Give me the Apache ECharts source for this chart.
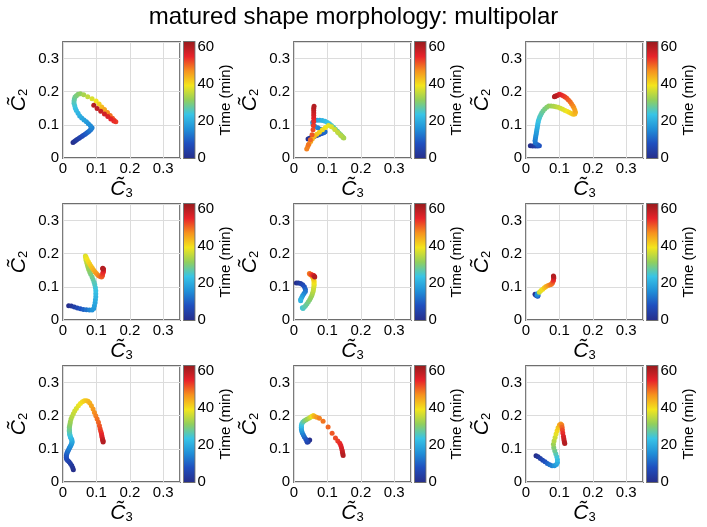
<!DOCTYPE html>
<html><head><meta charset="utf-8">
<script src="https://cdn.jsdelivr.net/npm/echarts@6/dist/echarts.min.js"></script>
<style>html,body{margin:0;padding:0;background:#fff}#c{width:707px;height:527px}</style>
</head><body><div id="c"></div><script>
// ---- data ----
const titleText = 'matured shape morphology: multipolar';
const c3Ticks = [0, 0.1, 0.2, 0.3];
const c2Ticks = [0, 0.1, 0.2, 0.3];
const timeTicks = [0, 20, 40, 60];
const c3Range = [0, 0.35];
const c2Range = [0, 0.35];
const timeRange = [0, 62.5];
// each point: [time (min), C3, C2]
const traj1 = [[0,0.030,0.047],[1,0.034,0.050],[2,0.038,0.053],[3,0.042,0.056],[4,0.047,0.059],[5,0.051,0.062],[6,0.056,0.065],[7,0.060,0.068],[8,0.065,0.071],[9,0.069,0.074],[10,0.073,0.077],[11,0.077,0.080],[12,0.081,0.084],[13,0.084,0.087],[14,0.087,0.091],[15,0.082,0.097],[16,0.076,0.103],[17,0.070,0.109],[18,0.063,0.115],[19,0.056,0.121],[20,0.050,0.127],[21,0.045,0.135],[22,0.040,0.143],[23,0.037,0.150],[24,0.035,0.158],[25,0.033,0.165],[26,0.033,0.172],[27,0.034,0.178],[28,0.036,0.184],[29,0.040,0.188],[30,0.045,0.192],[31,0.052,0.194],[33,0.062,0.191],[35,0.074,0.185],[37,0.087,0.179],[39,0.099,0.172],[41,0.108,0.163],[43,0.116,0.154],[45,0.124,0.146],[47,0.133,0.137],[49,0.141,0.128],[51,0.148,0.120],[52,0.153,0.114],[53,0.158,0.109],[54,0.152,0.112],[55,0.143,0.118],[56,0.134,0.125],[57,0.124,0.133],[58,0.113,0.141],[59,0.102,0.149],[60,0.092,0.159]];
const traj2 = [[0,0.042,0.057],[1,0.046,0.059],[2,0.050,0.061],[3,0.055,0.063],[4,0.060,0.065],[5,0.065,0.067],[6,0.070,0.069],[7,0.075,0.071],[8,0.080,0.073],[9,0.085,0.075],[10,0.090,0.077],[11,0.093,0.079],[12,0.088,0.083],[13,0.080,0.087],[14,0.071,0.091],[15,0.063,0.095],[16,0.057,0.101],[17,0.056,0.108],[18,0.061,0.113],[19,0.069,0.114],[20,0.077,0.114],[21,0.085,0.113],[22,0.093,0.111],[23,0.100,0.107],[24,0.106,0.103],[25,0.112,0.098],[26,0.118,0.093],[27,0.124,0.087],[28,0.130,0.081],[29,0.135,0.075],[30,0.140,0.070],[31,0.144,0.066],[32,0.147,0.062],[33,0.149,0.060],[34,0.140,0.068],[35,0.131,0.077],[36,0.122,0.086],[37,0.112,0.094],[38,0.103,0.098],[39,0.094,0.092],[40,0.085,0.085],[41,0.076,0.078],[42,0.068,0.072],[43,0.061,0.066],[44,0.055,0.058],[45,0.050,0.050],[46,0.045,0.042],[47,0.041,0.034],[48,0.038,0.027],[49,0.043,0.040],[50,0.049,0.055],[51,0.054,0.070],[52,0.057,0.085],[53,0.058,0.098],[54,0.059,0.110],[55,0.059,0.120],[56,0.059,0.128],[57,0.059,0.136],[58,0.059,0.143],[59,0.059,0.150],[60,0.060,0.156]];
const traj3 = [[0,0.013,0.037],[2,0.020,0.036],[4,0.028,0.036],[6,0.035,0.036],[8,0.040,0.037],[10,0.035,0.040],[12,0.028,0.045],[13,0.027,0.052],[14,0.028,0.058],[15,0.029,0.064],[16,0.030,0.070],[17,0.031,0.076],[18,0.032,0.082],[19,0.033,0.088],[20,0.034,0.094],[21,0.035,0.100],[22,0.036,0.106],[23,0.037,0.112],[24,0.039,0.118],[25,0.041,0.124],[26,0.044,0.130],[27,0.047,0.136],[28,0.051,0.142],[29,0.056,0.148],[30,0.062,0.153],[31,0.068,0.157],[32,0.075,0.157],[33,0.082,0.156],[34,0.089,0.155],[35,0.096,0.153],[36,0.103,0.150],[37,0.110,0.147],[38,0.117,0.143],[39,0.124,0.140],[40,0.130,0.137],[41,0.136,0.134],[42,0.141,0.132],[43,0.146,0.133],[44,0.148,0.138],[45,0.146,0.145],[46,0.143,0.152],[47,0.140,0.158],[48,0.136,0.164],[49,0.132,0.170],[50,0.127,0.175],[51,0.122,0.180],[52,0.117,0.184],[53,0.112,0.187],[54,0.106,0.190],[55,0.100,0.192],[56,0.096,0.190],[57,0.092,0.188],[58,0.089,0.187],[59,0.087,0.186],[60,0.085,0.185]];
const traj4 = [[0,0.017,0.043],[2,0.025,0.042],[4,0.034,0.039],[6,0.043,0.036],[8,0.052,0.034],[10,0.061,0.032],[12,0.070,0.031],[14,0.079,0.030],[16,0.087,0.030],[17,0.092,0.035],[18,0.094,0.043],[19,0.096,0.052],[20,0.097,0.061],[21,0.098,0.070],[22,0.098,0.079],[23,0.098,0.088],[24,0.097,0.097],[25,0.095,0.106],[26,0.093,0.114],[27,0.090,0.122],[28,0.087,0.130],[29,0.083,0.138],[30,0.080,0.145],[31,0.077,0.152],[32,0.075,0.159],[33,0.073,0.166],[34,0.071,0.173],[35,0.069,0.180],[36,0.068,0.187],[37,0.067,0.193],[38,0.069,0.190],[39,0.072,0.183],[40,0.076,0.176],[41,0.080,0.169],[42,0.084,0.162],[43,0.088,0.156],[44,0.092,0.150],[45,0.096,0.145],[46,0.100,0.140],[47,0.104,0.136],[48,0.108,0.133],[49,0.112,0.131],[50,0.115,0.130],[51,0.117,0.132],[52,0.118,0.136],[53,0.119,0.140],[54,0.120,0.144],[55,0.121,0.148],[56,0.121,0.151],[57,0.121,0.153],[58,0.120,0.154],[59,0.119,0.155],[60,0.119,0.156]];
const traj5 = [[0,0.007,0.112],[2,0.013,0.112],[4,0.020,0.110],[6,0.026,0.106],[8,0.031,0.100],[10,0.034,0.093],[12,0.034,0.086],[14,0.030,0.080],[16,0.026,0.074],[18,0.023,0.068],[20,0.020,0.062],[21,0.020,0.058],[24,0.025,0.037],[25,0.027,0.035],[26,0.031,0.039],[27,0.035,0.044],[28,0.039,0.049],[29,0.043,0.055],[30,0.047,0.061],[31,0.050,0.067],[32,0.053,0.073],[33,0.055,0.079],[34,0.057,0.085],[35,0.058,0.091],[36,0.059,0.097],[37,0.060,0.103],[38,0.060,0.108],[39,0.060,0.113],[40,0.060,0.118],[41,0.059,0.122],[42,0.058,0.126],[43,0.056,0.130],[44,0.054,0.133],[45,0.051,0.136],[46,0.048,0.138],[48,0.046,0.140],[50,0.048,0.139],[52,0.052,0.137],[54,0.056,0.135],[56,0.059,0.134],[58,0.061,0.132],[60,0.062,0.130]];
const traj6 = [[0,0.027,0.078],[2,0.029,0.076],[4,0.031,0.074],[6,0.033,0.073],[8,0.035,0.072],[10,0.036,0.074],[12,0.035,0.077],[14,0.033,0.075],[16,0.034,0.079],[36,0.040,0.084],[38,0.045,0.089],[40,0.050,0.093],[42,0.055,0.097],[44,0.060,0.101],[46,0.066,0.104],[48,0.072,0.106],[49,0.076,0.108],[50,0.079,0.112],[52,0.081,0.117],[54,0.082,0.121],[56,0.083,0.126],[58,0.083,0.130],[60,0.082,0.133]];
const traj7 = [[0,0.031,0.037],[1,0.029,0.043],[2,0.026,0.050],[3,0.022,0.056],[4,0.018,0.061],[5,0.014,0.065],[6,0.011,0.069],[7,0.010,0.074],[8,0.010,0.079],[9,0.011,0.084],[10,0.012,0.088],[11,0.014,0.092],[12,0.016,0.096],[13,0.018,0.100],[14,0.020,0.104],[15,0.022,0.108],[16,0.024,0.112],[17,0.026,0.116],[18,0.027,0.120],[19,0.027,0.124],[20,0.026,0.128],[21,0.024,0.132],[22,0.022,0.136],[23,0.021,0.140],[24,0.020,0.144],[25,0.020,0.148],[26,0.019,0.152],[27,0.019,0.156],[28,0.019,0.160],[29,0.019,0.165],[30,0.020,0.170],[31,0.021,0.176],[32,0.022,0.182],[33,0.024,0.190],[34,0.027,0.198],[35,0.031,0.206],[36,0.035,0.214],[37,0.040,0.222],[38,0.046,0.230],[39,0.052,0.237],[40,0.058,0.242],[41,0.064,0.245],[42,0.070,0.245],[43,0.075,0.244],[44,0.080,0.238],[45,0.085,0.230],[46,0.090,0.220],[47,0.094,0.210],[48,0.098,0.200],[49,0.102,0.190],[50,0.106,0.180],[51,0.109,0.170],[52,0.111,0.161],[53,0.113,0.153],[54,0.115,0.146],[55,0.116,0.140],[56,0.117,0.135],[57,0.118,0.130],[58,0.119,0.127],[59,0.120,0.124],[60,0.120,0.121]];
const traj8 = [[0,0.047,0.127],[2,0.043,0.122],[4,0.040,0.120],[6,0.038,0.124],[8,0.035,0.130],[10,0.031,0.136],[12,0.028,0.142],[14,0.025,0.148],[16,0.023,0.154],[18,0.022,0.160],[20,0.022,0.165],[22,0.022,0.170],[24,0.023,0.175],[26,0.026,0.180],[28,0.030,0.184],[30,0.035,0.187],[32,0.040,0.190],[34,0.046,0.193],[36,0.050,0.196],[38,0.054,0.198],[40,0.057,0.200],[42,0.059,0.200],[44,0.062,0.198],[46,0.068,0.195],[48,0.076,0.192],[49,0.087,0.183],[50,0.102,0.166],[51,0.114,0.147],[52,0.124,0.133],[53,0.131,0.124],[54,0.137,0.117],[55,0.140,0.110],[56,0.142,0.103],[57,0.144,0.096],[58,0.145,0.090],[59,0.146,0.085],[60,0.147,0.080]];
const traj9 = [[0,0.030,0.079],[2,0.036,0.076],[4,0.043,0.071],[6,0.050,0.066],[8,0.057,0.061],[10,0.064,0.056],[12,0.071,0.052],[14,0.078,0.049],[16,0.085,0.049],[18,0.091,0.053],[20,0.094,0.059],[22,0.094,0.067],[24,0.092,0.076],[26,0.089,0.085],[28,0.086,0.094],[30,0.083,0.104],[32,0.082,0.114],[34,0.084,0.124],[36,0.087,0.134],[38,0.090,0.145],[40,0.093,0.155],[42,0.096,0.164],[44,0.100,0.172],[46,0.104,0.175],[48,0.107,0.172],[50,0.108,0.165],[52,0.109,0.157],[54,0.110,0.148],[56,0.112,0.138],[57,0.113,0.131],[58,0.114,0.125],[59,0.115,0.120],[60,0.116,0.116]];
const trajectories = [traj1, traj2, traj3, traj4, traj5, traj6, traj7, traj8, traj9];

// ---- layout / style ----
const FONT = '"Liberation Sans", Arial, Helvetica, sans-serif';
const colLeft = [63, 294, 526], rowTop = [42, 204, 366], W = 117, H = 116;
const jet = ['#262f8c','#1f4fbf','#2090d8','#38c4e6','#92cf5c','#f3e51d','#f6921e','#e8232a','#9a1b1e'];
const BORDER = '#6e6e6e';

const chart = echarts.init(document.getElementById('c'));
const grid = [], xAxis = [], yAxis = [], series = [];
const nameRich = {
  c: { fontFamily: FONT, fontStyle: 'italic', fontSize: 21, color: '#000', lineHeight: 24, verticalAlign: 'bottom' },
  s: { fontFamily: FONT, fontSize: 13, color: '#000', lineHeight: 15, verticalAlign: 'bottom' }
};
const fmtTick = v => (v === 0 ? '0' : String(Math.round(v * 10) / 10));

trajectories.forEach((traj, i) => {
  const r = Math.floor(i / 3), c = i % 3;
  grid.push({ left: colLeft[c], top: rowTop[r], width: W, height: H, show: true,
    borderColor: BORDER, borderWidth: 1.8, backgroundColor: '#fff', containLabel: false });
  grid.push({ left: colLeft[c] + 121, top: rowTop[r], width: 10.5, height: H, show: true,
    borderColor: BORDER, borderWidth: 1.8, containLabel: false });
  const g = i * 2;
  xAxis.push({ type: 'value', gridIndex: g, min: c3Range[0], max: c3Range[1], interval: c3Ticks[1] - c3Ticks[0],
    axisLine: { show: false }, axisTick: { show: false },
    splitLine: { show: true, lineStyle: { color: '#dcdcdc', width: 1 } },
    axisLabel: { fontFamily: FONT, fontSize: 15, color: '#000', margin: 3, showMaxLabel: false, formatter: fmtTick },
    name: '{c|C\u0303}{s|3}', nameLocation: 'middle', nameGap: 18,
    nameTextStyle: { rich: nameRich } });
  yAxis.push({ type: 'value', gridIndex: g, min: c2Range[0], max: c2Range[1], interval: c2Ticks[1] - c2Ticks[0],
    axisLine: { show: false }, axisTick: { show: false },
    splitLine: { show: true, lineStyle: { color: '#dcdcdc', width: 1 } },
    axisLabel: { fontFamily: FONT, fontSize: 15, color: '#000', margin: 4, showMaxLabel: false, formatter: fmtTick },
    name: '{c|C\u0303}{s|2}', nameLocation: 'middle', nameGap: 33, nameRotate: 90,
    nameTextStyle: { rich: nameRich } });
  xAxis.push({ type: 'category', gridIndex: g + 1, data: ['t'], show: false, boundaryGap: true });
  yAxis.push({ type: 'value', gridIndex: g + 1, position: 'right', min: timeRange[0], max: timeRange[1],
    interval: timeTicks[1] - timeTicks[0],
    axisLine: { show: false }, axisTick: { show: false }, splitLine: { show: false },
    axisLabel: { fontFamily: FONT, fontSize: 15, color: '#000', margin: 3, showMaxLabel: false },
    name: 'Time (min)', nameLocation: 'middle', nameGap: 22, nameRotate: 90,
    nameTextStyle: { fontFamily: FONT, fontSize: 15, color: '#000' } });
});

trajectories.forEach((traj, i) => {
  series.push({ type: 'scatter', xAxisIndex: i * 2, yAxisIndex: i * 2, symbolSize: 5,
    data: traj.map(d => [d[1], d[2], d[0]]), itemStyle: { opacity: 1 }, silent: true, animation: false });
});
const gradStops = jet.slice().reverse().map((col, k) => ({ offset: k / (jet.length - 1), color: col }));
trajectories.forEach((traj, i) => {
  series.push({ type: 'bar', xAxisIndex: i * 2 + 1, yAxisIndex: i * 2 + 1, barWidth: '100%',
    data: [timeRange[1]], silent: true, animation: false,
    itemStyle: { color: new echarts.graphic.LinearGradient(0, 0, 0, 1, gradStops) } });
});

chart.setOption({
  backgroundColor: '#fff',
  animation: false,
  title: { text: titleText, left: 'center', top: 0,
    textStyle: { fontFamily: FONT, fontSize: 24, fontWeight: 'normal', color: '#000' } },
  grid, xAxis, yAxis, series,
  visualMap: { type: 'continuous', show: false, dimension: 2, min: timeRange[0], max: timeRange[1],
    seriesIndex: [0,1,2,3,4,5,6,7,8], inRange: { color: jet } }
});
</script></body></html>
